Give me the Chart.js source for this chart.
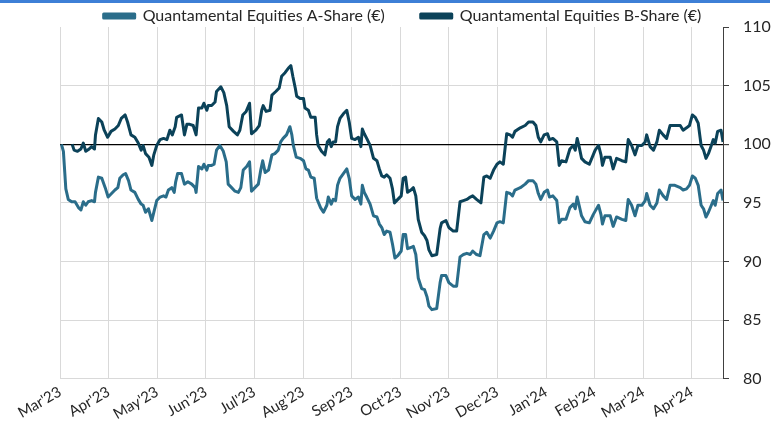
<!DOCTYPE html>
<html>
<head>
<meta charset="utf-8">
<script src="https://cdn.jsdelivr.net/npm/chart.js@4.4.1/dist/chart.umd.min.js"></script>
<style>
  html, body { margin: 0; padding: 0; background: #fff; }
  #wrap { position: relative; width: 781px; height: 428px; }
  #topbar { position: absolute; left: 0; top: 0; width: 770px; height: 3px; background: #3d7fd6; }
  canvas { position: absolute; left: 0; top: 0; }
</style>
</head>
<body>
<div id="wrap">
  <canvas id="chart" width="781" height="428"></canvas>
  <div id="topbar"></div>
</div>
<script>
// month labels on the x axis (one per gridline)
const monthLabels = ["Mar'23", "Apr'23", "May'23", "Jun'23", "Jul'23", "Aug'23", "Sep'23",
  "Oct'23", "Nov'23", "Dec'23", "Jan'24", "Feb'24", "Mar'24", "Apr'24"];
const yTicks = [80, 85, 90, 95, 100, 105, 110];

// x positions in months since 1 Mar 2023
const aDates = [0.03, 0.07, 0.12, 0.17, 0.24, 0.31, 0.38, 0.43, 0.48, 0.53, 0.58, 0.65, 0.71, 0.73, 0.79, 0.86, 0.93, 0.99,
  1.06, 1.13, 1.19, 1.23, 1.30, 1.35, 1.41, 1.46, 1.54, 1.61, 1.67, 1.71, 1.76, 1.82, 1.89, 1.93, 1.99,
  2.06, 2.13, 2.18, 2.23, 2.30, 2.35, 2.38, 2.42, 2.50, 2.56, 2.63, 2.71, 2.78, 2.80, 2.85, 2.92, 2.96,
  3.02, 3.05, 3.12, 3.17, 3.22, 3.29, 3.36, 3.42, 3.46, 3.53, 3.60, 3.67, 3.72, 3.77, 3.84, 3.90, 3.94,
  4.01, 4.08, 4.13, 4.17, 4.22, 4.29, 4.36, 4.42, 4.49, 4.54, 4.59, 4.66, 4.73, 4.77, 4.80, 4.86, 4.94,
  5.01, 5.06, 5.11, 5.16, 5.23, 5.28, 5.36, 5.42, 5.49, 5.52, 5.58, 5.62, 5.67, 5.71, 5.76, 5.83, 5.90, 5.95,
  6.00, 6.07, 6.14, 6.19, 6.22, 6.26, 6.31, 6.38, 6.45, 6.52, 6.57, 6.62, 6.67, 6.72, 6.79, 6.84, 6.89, 6.95,
  7.02, 7.06, 7.11, 7.15, 7.22, 7.27, 7.32, 7.37, 7.44, 7.50, 7.55, 7.59, 7.65, 7.75, 7.82, 7.85, 7.94,
  8.00, 8.09, 8.16, 8.23, 8.30, 8.37, 8.44, 8.49, 8.57, 8.64, 8.72, 8.78, 8.85, 8.92, 8.99,
  9.05, 9.12, 9.19, 9.26, 9.31, 9.36, 9.47, 9.57, 9.64, 9.73, 9.79, 9.84, 9.89, 9.96,
  10.03, 10.07, 10.14, 10.22, 10.27, 10.32, 10.41, 10.49, 10.56, 10.60, 10.64, 10.68, 10.73, 10.80, 10.89, 10.97,
  11.01, 11.08, 11.13, 11.16, 11.21, 11.32, 11.38, 11.45, 11.56, 11.64, 11.69, 11.76, 11.83, 11.89, 11.97,
  12.04, 12.07, 12.14, 12.21, 12.28, 12.33, 12.41, 12.48, 12.55, 12.65, 12.76, 12.82, 12.89, 12.95,
  13.01, 13.07, 13.13, 13.19, 13.24, 13.29, 13.34, 13.40, 13.44, 13.48, 13.53, 13.60, 13.64];
const aValues = [100, 99.4, 96.2, 95.3, 95.1, 95.1, 94.6, 94.4, 95.1, 94.8, 95.1, 95.2, 95.1, 95.9, 97.2, 97.1, 96.3, 95.5,
  95.8, 96.1, 96.3, 97.1, 97.4, 97.5, 96.9, 96.1, 95.9, 95.3, 94.9, 94.8, 94.2, 94.5, 93.5, 94.2, 95.2,
  95.5, 95.6, 95.5, 96.1, 96.3, 95.9, 96.8, 97.5, 97.5, 96.6, 96.8, 96.6, 96.3, 95.9, 98.1, 97.9, 98.3,
  97.8, 98.2, 98.2, 98.3, 99.5, 99.9, 99.4, 98.5, 96.6, 96.3, 96.0, 95.9, 96.3, 97.8, 98.1, 98.5, 96.0,
  96.3, 96.6, 97.8, 98.6, 97.6, 97.8, 99.1, 99.2, 99.5, 100.2, 100.5, 100.8, 101.5, 100.8, 99.9, 98.9, 98.8,
  98.6, 97.9, 97.8, 97.2, 97.1, 95.4, 94.6, 94.2, 94.8, 95.5, 94.9, 95.3, 95.2, 96.5, 97.1, 97.5, 97.9, 97.1,
  95.6, 95.3, 95.5, 94.9, 96.5, 95.9, 95.5, 94.9, 93.9, 93.8, 93.2, 92.9, 92.3, 92.6, 92.5, 91.5, 90.3, 90.5,
  90.9, 92.3, 92.3, 91.1, 91.2, 91.3, 90.6, 88.6, 87.7, 87.6, 87.0, 86.2, 85.9, 86.0, 88.2, 88.8, 88.8,
  88.2, 87.9, 87.9, 90.4, 90.6, 90.7, 90.6, 90.9, 90.6, 90.5, 92.3, 92.5, 92.0, 92.6, 93.3,
  93.4, 93.3, 95.9, 95.8, 95.6, 96.1, 96.3, 96.6, 96.9, 96.9, 96.6, 95.8, 95.3, 95.9,
  96.1, 95.5, 95.6, 95.2, 93.3, 93.6, 93.6, 94.6, 94.9, 94.5, 95.5, 94.8, 93.9, 93.4, 93.3, 94.0,
  94.3, 94.8, 94.0, 93.2, 93.9, 93.9, 93.0, 93.8, 93.6, 93.5, 95.3, 94.8, 93.9, 94.8, 94.8,
  95.2, 95.8, 94.8, 94.5, 95.0, 96.1, 95.6, 95.3, 96.5, 96.5, 96.3, 96.1, 96.2, 96.5,
  97.3, 97.1, 96.5, 94.8, 94.5, 93.8, 94.2, 94.8, 95.2, 94.8, 95.8, 96.1, 95.2];

const bDates = [0.25, 0.29, 0.36, 0.43, 0.48, 0.53, 0.60, 0.65, 0.71, 0.73, 0.79, 0.86, 0.91, 0.98,
  1.05, 1.13, 1.20, 1.26, 1.34, 1.39, 1.46, 1.54, 1.61, 1.67, 1.71, 1.76, 1.83, 1.89, 1.93, 1.99,
  2.06, 2.13, 2.20, 2.26, 2.31, 2.37, 2.40, 2.50, 2.56, 2.61, 2.67, 2.74, 2.80, 2.85, 2.92, 2.96,
  3.02, 3.05, 3.12, 3.19, 3.22, 3.31, 3.37, 3.43, 3.48, 3.57, 3.65, 3.70, 3.76, 3.83, 3.90, 3.94,
  4.03, 4.10, 4.15, 4.18, 4.24, 4.32, 4.36, 4.44, 4.51, 4.56, 4.63, 4.70, 4.75, 4.79, 4.84, 4.87, 4.94,
  5.01, 5.04, 5.11, 5.16, 5.25, 5.28, 5.31, 5.38, 5.45, 5.50, 5.54, 5.58, 5.62, 5.67, 5.71, 5.76, 5.83, 5.90, 5.95,
  6.00, 6.07, 6.14, 6.19, 6.22, 6.26, 6.31, 6.38, 6.45, 6.52, 6.57, 6.62, 6.67, 6.72, 6.79, 6.84, 6.88, 6.95,
  7.02, 7.06, 7.11, 7.15, 7.22, 7.27, 7.32, 7.37, 7.44, 7.50, 7.55, 7.59, 7.65, 7.75, 7.82, 7.85, 7.94,
  8.00, 8.09, 8.16, 8.23, 8.30, 8.37, 8.44, 8.49, 8.57, 8.66, 8.72, 8.78, 8.85, 8.92, 8.99,
  9.05, 9.12, 9.19, 9.26, 9.31, 9.36, 9.47, 9.57, 9.64, 9.73, 9.79, 9.84, 9.89, 9.96,
  10.03, 10.07, 10.14, 10.22, 10.27, 10.32, 10.41, 10.49, 10.56, 10.60, 10.64, 10.68, 10.73, 10.80, 10.89, 10.97,
  11.01, 11.08, 11.13, 11.16, 11.21, 11.32, 11.38, 11.45, 11.56, 11.64, 11.69, 11.76, 11.83, 11.89, 11.97,
  12.04, 12.07, 12.14, 12.21, 12.28, 12.33, 12.41, 12.48, 12.55, 12.65, 12.76, 12.82, 12.89, 12.95,
  13.01, 13.07, 13.13, 13.19, 13.24, 13.29, 13.34, 13.40, 13.44, 13.48, 13.53, 13.60, 13.64];
const bValues = [100.0, 99.5, 99.4, 99.6, 100.1, 99.4, 99.6, 99.8, 99.6, 100.8, 102.2, 101.9, 101.2, 100.6,
  101.1, 101.3, 101.6, 102.2, 102.5, 101.9, 100.8, 100.6, 100.1, 99.5, 99.9, 99.2, 98.9, 98.2, 99.1, 99.9,
  100.4, 100.5, 100.4, 101.2, 100.8, 101.5, 102.3, 102.5, 100.8, 101.7, 101.7, 101.6, 100.8, 103.1, 103.1, 103.5,
  102.9, 103.3, 103.3, 103.6, 104.5, 104.9, 104.4, 103.3, 101.5, 101.1, 100.8, 101.2, 102.5, 102.8, 103.5, 100.9,
  101.2, 101.6, 102.9, 103.3, 102.8, 102.9, 104.2, 104.5, 104.8, 105.8, 106.1, 106.5, 106.7, 105.8, 104.8, 104.1, 103.9,
  103.9, 103.1, 102.9, 102.3, 102.3, 100.8, 99.9, 99.4, 99.1, 100.2, 100.4, 99.8, 100.2, 100.2, 101.5, 102.2, 102.6, 102.9, 101.9,
  100.5, 100.4, 100.6, 99.8, 101.3, 100.9, 100.5, 99.9, 98.8, 98.6, 97.9, 97.3, 97.2, 97.4, 97.1, 96.2, 95.0, 95.3,
  95.6, 97.1, 97.2, 95.9, 96.1, 96.3, 95.6, 93.6, 92.5, 92.2, 91.8, 91.0, 90.5, 90.6, 92.8, 93.3, 93.5,
  92.9, 92.6, 92.6, 95.1, 95.2, 95.3, 95.5, 95.6, 95.3, 95.0, 97.2, 97.3, 97.1, 97.8, 98.3,
  98.5, 98.3, 100.9, 100.8, 100.6, 101.1, 101.4, 101.6, 101.9, 101.9, 101.6, 100.6, 100.2, 100.8,
  100.9, 100.4, 100.5, 100.2, 98.2, 98.6, 98.5, 99.6, 99.9, 99.5, 100.5, 99.8, 98.8, 98.5, 98.3, 99.1,
  99.5, 99.9, 99.1, 98.2, 98.9, 98.9, 97.9, 98.8, 98.6, 98.5, 100.4, 99.9, 99.1, 99.9, 99.9,
  100.2, 100.8, 99.8, 99.5, 100.2, 101.2, 100.8, 100.5, 101.6, 101.6, 101.6, 101.2, 101.4, 101.6,
  102.5, 102.3, 101.8, 99.9, 99.5, 98.8, 99.2, 99.9, 100.4, 100.1, 101.1, 101.2, 100.2];

const colorA = '#2a6d8a';
const colorB = '#0b4259';
const FONT = 'Lato, "Open Sans", sans-serif';

const toPoints = (xs, ys) => xs.map((x, i) => ({ x: x, y: ys[i] }));

// keep the wide gap between legend items without a tall legend box
const legendSpacing = {
  id: 'legendSpacing',
  beforeUpdate(chart) {
    const lg = chart.legend;
    if (!lg || lg._patched) return;
    const fit = lg.fit;
    const draw = lg._draw;
    lg.fit = function () { fit.call(this); this.height = 27; };
    if (typeof draw === 'function') {
      lg._draw = function () {
        const t = this.top, l = this.left, r = this.right;
        this.top = t - 28;
        this.left = l - 18;
        this.right = r - 18;
        draw.call(this);
        this.top = t;
        this.left = l;
        this.right = r;
      };
    }
    lg._patched = true;
  }
};

new Chart(document.getElementById('chart').getContext('2d'), {
  type: 'line',
  data: {
    datasets: [{
      label: 'Quantamental Equities A-Share (€)',
      data: toPoints(aDates, aValues),
      borderColor: colorA,
      backgroundColor: colorA,
      borderWidth: 3,
      pointRadius: 0,
      tension: 0,
      borderJoinStyle: 'round'
    }, {
      label: 'Quantamental Equities B-Share (€)',
      data: toPoints(bDates, bValues),
      borderColor: colorB,
      backgroundColor: colorB,
      borderWidth: 3,
      pointRadius: 0,
      tension: 0,
      borderJoinStyle: 'round'
    }]
  },
  plugins: [legendSpacing],
  options: {
    responsive: false,
    animation: false,
    layout: { padding: { left: 60, right: 0, top: 0, bottom: 1 } },
    plugins: {
      tooltip: { enabled: false },
      legend: {
        position: 'top',
        labels: {
          color: '#262626',
          font: { family: FONT, size: 16 },
          boxWidth: 31,
          boxHeight: 4,
          padding: 36
        }
      }
    },
    scales: {
      x: {
        type: 'linear',
        min: 0,
        max: 13.64,
        afterBuildTicks: (scale) => {
          scale.ticks = monthLabels.map((_, i) => ({ value: i }));
        },
        ticks: {
          autoSkip: false,
          minRotation: 30,
          maxRotation: 30,
          padding: 4,
          color: '#262626',
          font: { family: FONT, size: 15 },
          callback: (v) => monthLabels[v]
        },
        grid: { color: '#d9d9d9', lineWidth: 1, drawTicks: false },
        border: { display: false }
      },
      y: {
        position: 'right',
        min: 80,
        max: 110,
        afterBuildTicks: (scale) => {
          scale.ticks = yTicks.map(v => ({ value: v }));
        },
        afterFit: (scale) => { scale.width = 58; },
        ticks: {
          padding: 14,
          color: '#262626',
          font: { family: FONT, size: 16 }
        },
        grid: {
          color: (ctx) => ctx.tick.value === 100 ? '#000000' : (ctx.tick.value === 110 ? 'rgba(0,0,0,0)' : '#d9d9d9'),
          lineWidth: (ctx) => ctx.tick.value === 100 ? 1.2 : 1,
          tickColor: '#404040',
          tickLength: 6
        },
        border: { display: true, color: '#404040', width: 1 }
      }
    }
  }
});
</script>
</body>
</html>
